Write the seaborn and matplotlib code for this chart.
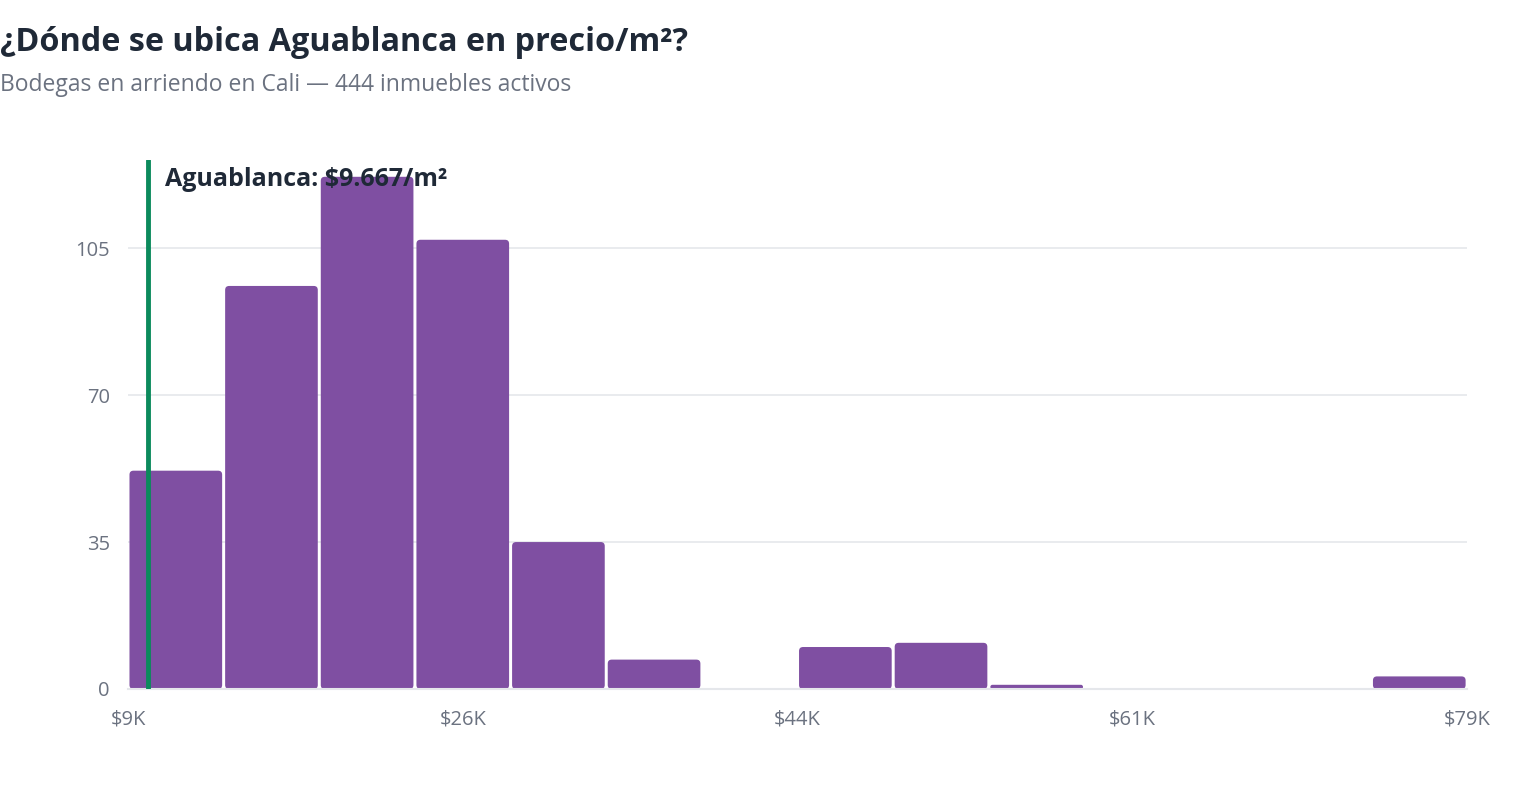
import numpy as np
import pandas as pd
import matplotlib
matplotlib.use("Agg")
import matplotlib.pyplot as plt
from matplotlib.patches import FancyBboxPatch
import seaborn as sns

# datos del histograma (precio/m2 en pesos)
x_min = 8600
x_max = 78800
n_bins = 14
counts = [52, 96, 122, 107, 35, 7, 0, 10, 11, 1, 0, 0, 0, 3]
y_ticks = [0, 35, 70, 105]
barrio = "Aguablanca"
barrio_precio = 9667

edges = np.linspace(x_min, x_max, n_bins + 1)
centers = (edges[:-1] + edges[1:]) / 2
df = pd.DataFrame({"precio": centers, "n": counts})

sns.set_style("white")
plt.rcParams["font.family"] = ["Open Sans", "DejaVu Sans"]

fig = plt.figure(figsize=(15.2, 8), dpi=100)
ax = fig.add_axes([0.0842, 0.13875, 0.881, 0.66125])

sns.histplot(data=df, x="precio", weights="n", bins=edges.tolist(), ax=ax,
             color="#7f4fa2", alpha=1, edgecolor="white", linewidth=0)

# barras con esquinas redondeadas
px_x = (x_max - x_min) / 1339
px_y = 126 / 529
for p in list(ax.patches):
    x0, y0 = p.get_x(), p.get_y()
    w, h = p.get_width(), p.get_height()
    p.remove()
    if h <= 0:
        continue
    gap = 1.5 * px_x
    r = min(4 * px_x, h / px_y * px_x * 0.5)
    fb = FancyBboxPatch((x0 + gap, y0), w - 2 * gap, h,
                        boxstyle=f"round,pad=0,rounding_size={r}",
                        mutation_aspect=px_y / px_x,
                        facecolor="#7f4fa2", edgecolor="none", zorder=2)
    ax.add_patch(fb)

ax.set_xlim(x_min, x_max)
ax.set_ylim(0, 126)
ax.set_yticks(y_ticks)
ax.yaxis.grid(True, color="#e5e7eb", linewidth=1.2, zorder=0)
ax.set_axisbelow(True)
xt = np.linspace(x_min, x_max, 5)
ax.set_xticks(xt)
ax.set_xticklabels([f"${round(v / 1000)}K" for v in xt])
ax.tick_params(axis="both", length=0, labelsize=14.5, labelcolor="#6b7280")
ax.tick_params(axis="x", pad=15)
ax.tick_params(axis="y", pad=13)
for s in ["top", "right", "left"]:
    ax.spines[s].set_visible(False)
ax.spines["bottom"].set_color("#e5e7eb")
ax.spines["bottom"].set_linewidth(1.5)
ax.set_xlabel("")
ax.set_ylabel("")

ax.axvline(barrio_precio, color="#0b8a5c", linewidth=3.5, zorder=4)
ax.text(barrio_precio + (x_max - x_min) * 0.0125, 121.3,
        f"{barrio}: ${barrio_precio:,}/m²".replace(",", "."),
        fontsize=18, fontweight="bold", color="#1f2937", va="center", zorder=5)

fig.text(0.0, 0.947, "¿Dónde se ubica Aguablanca en precio/m²?",
         fontsize=23.3, fontweight="bold", color="#1f2937", va="center")
fig.text(0.0, 0.894, "Bodegas en arriendo en Cali — 444 inmuebles activos",
         fontsize=16.5, color="#6b7280", va="center")

fig.savefig("out.png", dpi=100, facecolor="white")
